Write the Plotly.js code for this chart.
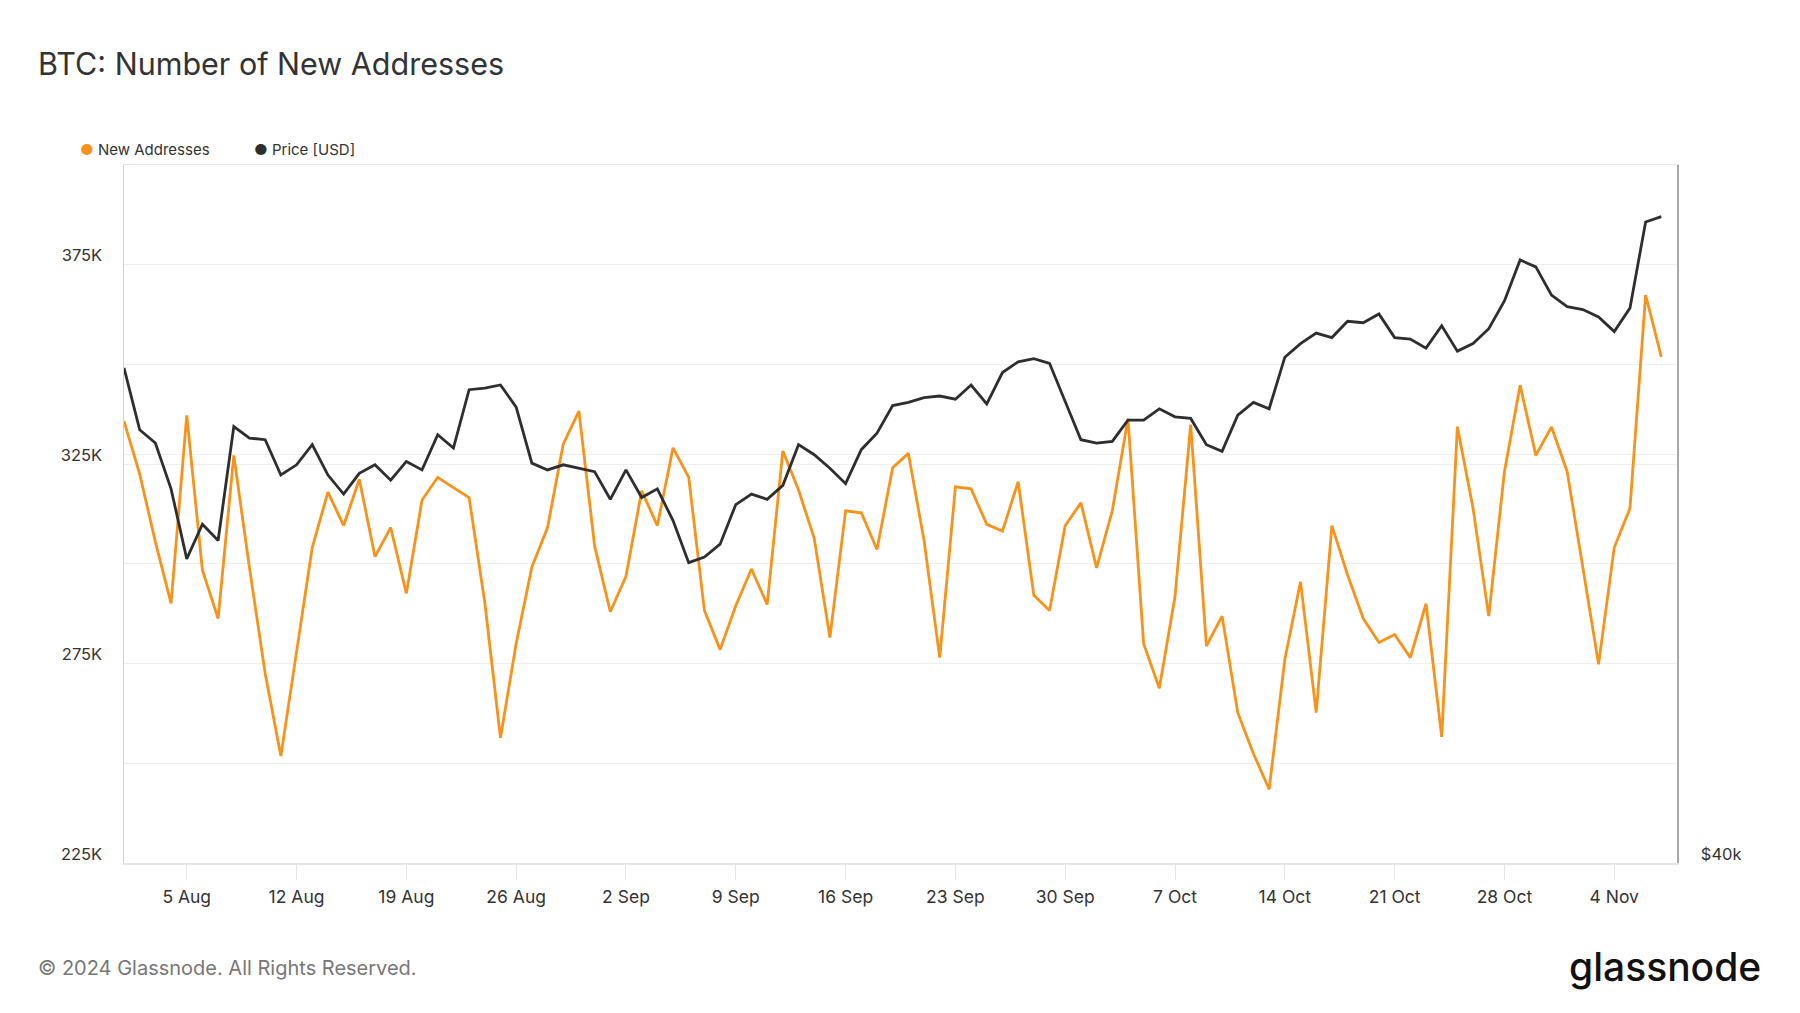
<!DOCTYPE html>
<html>
<head>
<meta charset="utf-8">
<script src="https://cdn.plot.ly/plotly-3.0.1.min.js"></script>
<style>html,body{margin:0;padding:0;background:#fff;}#chart{width:1800px;height:1013px;}</style>
</head>
<body>
<div id="chart"></div>
<script>
const startDate = '2024-08-01';
const newAddresses = [335800,322500,305500,290100,337200,298400,286300,327200,299000,272500,
251800,278000,304100,318000,309600,321200,301800,309100,292600,316000,
321700,319100,316600,290300,256400,280000,299200,309100,330000,338300,
304500,288000,296900,318300,309600,329100,321700,288300,278500,289500,
298700,289800,328300,318500,306400,281500,313300,312800,303600,324100,
327700,305900,276500,319300,318800,309900,308200,320600,292100,288300,
309600,315300,299000,313300,336400,280000,268800,291800,334900,279400,
286900,262700,252400,243500,276000,295500,262700,309600,297200,286300,
280300,282300,276500,290000,256600,334400,313900,286900,323100,344800,
327200,334300,323100,299000,274800,304100,313900,367400,351900];
const priceUSD = [65400,61500,60700,58000,54100,56000,55100,61700,61000,60900,
58800,59400,60600,58800,57700,58900,59400,58500,59600,59100,
61200,60400,64000,64100,64300,62900,59500,59100,59400,59200,
59000,57400,59100,57500,58000,56200,53900,54200,54900,57100,
57700,57400,58200,60600,60000,59200,58300,60300,61300,63000,
63200,63500,63600,63400,64300,63100,65100,65800,66000,65700,
63200,60900,60700,60800,62100,62100,62800,62300,62200,60600,
60200,62400,63200,62800,66100,67000,67700,67400,68500,68400,
69000,67400,67300,66700,68200,66500,67000,68000,69900,72800,
72300,70300,69500,69300,68800,67800,69400,75600,76000];
const xTickVals = ['2024-08-05','2024-08-12','2024-08-19','2024-08-26','2024-09-02','2024-09-09','2024-09-16','2024-09-23','2024-09-30','2024-10-07','2024-10-14','2024-10-21','2024-10-28','2024-11-04'];
const xTickText = ['5 Aug','12 Aug','19 Aug','26 Aug','2 Sep','9 Sep','16 Sep','23 Sep','30 Sep','7 Oct','14 Oct','21 Oct','28 Oct','4 Nov'];
const yTickVals = [225000,250000,275000,300000,325000,350000,375000,400000];
const yTickText = ['225K','','275K','','325K','','375K',''];
const y2TickVals = [40000,60000];
const y2TickText = ['$40k',''];

const dates = [];
{
  const d0 = new Date(startDate + 'T00:00:00Z');
  for (let i = 0; i < newAddresses.length; i++) {
    const d = new Date(d0.getTime() + i * 86400000);
    dates.push(d.toISOString().slice(0, 10));
  }
}

const ORANGE = '#f7931a';
const DARK = '#2e2e2e';
const FONT = 'Inter, "Open Sans", sans-serif';

const traces = [
  {x: dates, y: newAddresses, type: 'scatter', mode: 'lines', name: 'New Addresses',
   line: {color: ORANGE, width: 2.8}, yaxis: 'y'},
  {x: dates, y: priceUSD, type: 'scatter', mode: 'lines', name: 'Price [USD]',
   line: {color: DARK, width: 2.8}, yaxis: 'y2'}
];

const layout = {
  width: 1800, height: 1013,
  paper_bgcolor: '#ffffff', plot_bgcolor: '#ffffff',
  margin: {l: 124, r: 123, t: 165, b: 150, pad: 0},
  showlegend: false,
  font: {family: FONT, color: '#333333', size: 16},
  title: {text: 'BTC: Number of New Addresses', x: 38/1800, xref: 'container', xanchor: 'left',
          y: 1 - 64/1013, yref: 'container', yanchor: 'middle',
          font: {family: FONT, size: 30.5, color: '#333333'}},
  xaxis: {
    type: 'date', range: ['2024-08-01', '2024-11-08'],
    tickvals: xTickVals, ticktext: xTickText,
    showgrid: false, zeroline: false,
    showline: true, mirror: true, linecolor: '#e6e6e6', linewidth: 1.5,
    ticks: 'outside', ticklen: 15, tickcolor: '#e6e6e6', tickwidth: 1,
    ticklabelstandoff: 2,
    tickfont: {family: FONT, size: 17.5, color: '#333333'}
  },
  yaxis: {
    range: [225000, 400000], tickvals: yTickVals, ticktext: yTickText,
    showgrid: true, gridcolor: '#efefef', gridwidth: 1, zeroline: false,
    showline: true, linecolor: '#fbc992', linewidth: 1.5,
    ticks: '', ticklabelstandoff: 17, ticklabelshift: -9,
    tickfont: {family: FONT, size: 16.5, color: '#333333'}
  },
  yaxis2: {
    type: 'log', overlaying: 'y', side: 'right',
    range: [Math.log10(40000), Math.log10(80000)],
    tickvals: y2TickVals, ticktext: y2TickText,
    showgrid: true, gridcolor: '#efefef', gridwidth: 1, zeroline: false,
    showline: true, linecolor: '#a8a8a8', linewidth: 1.5,
    ticks: '', ticklabelstandoff: 19, ticklabelshift: -9,
    tickfont: {family: FONT, size: 16.5, color: '#333333'}
  },
  annotations: [
    {text: '<span style="color:' + ORANGE + '">●</span> New Addresses', xref: 'paper', yref: 'paper',
     x: (77.5 - 124)/1553, y: (863 - 149)/698.3, xanchor: 'left', yanchor: 'middle', showarrow: false,
     font: {family: FONT, size: 15, color: '#333333'}},
    {text: '<span style="color:' + DARK + '">●</span> Price [USD]', xref: 'paper', yref: 'paper',
     x: (251.5 - 124)/1553, y: (863 - 149)/698.3, xanchor: 'left', yanchor: 'middle', showarrow: false,
     font: {family: FONT, size: 15, color: '#333333'}},
    {text: '© 2024 Glassnode. All Rights Reserved.', xref: 'paper', yref: 'paper',
     x: (36 - 124)/1553, y: (863 - 968)/698.3, xanchor: 'left', yanchor: 'middle', showarrow: false,
     font: {family: FONT, size: 20, color: '#777777'}},
    {text: 'glassnode', xref: 'paper', yref: 'paper',
     x: (1763 - 124)/1553, y: (863 - 967)/698.3, xanchor: 'right', yanchor: 'middle', showarrow: false,
     font: {family: FONT, size: 39, color: '#111111', weight: 500}}
  ]
};

Plotly.newPlot('chart', traces, layout, {displayModeBar: false, staticPlot: true});
</script>
</body>
</html>
